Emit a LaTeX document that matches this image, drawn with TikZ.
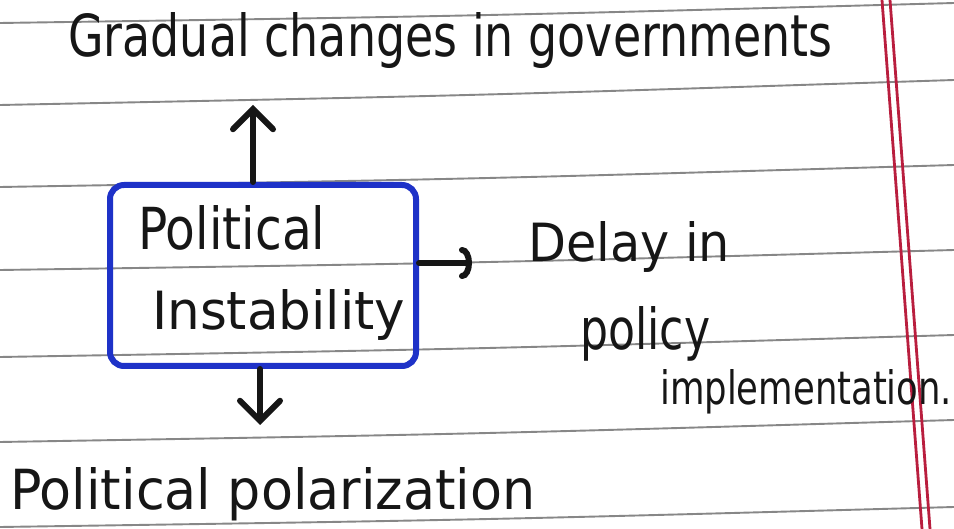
\documentclass[tikz,border=0pt]{standalone}
\usepackage{fontspec}
\setmainfont{DejaVu Sans}
\usetikzlibrary{arrows.meta}
\definecolor{rulegray}{RGB}{135,135,135}
\definecolor{marginred}{RGB}{185,30,62}
\definecolor{penblue}{RGB}{30,50,200}
\definecolor{penblack}{RGB}{22,22,22}
\newcommand{\fitwh}[3]{\resizebox{#1}{#2}{#3}}
\begin{document}
\begin{tikzpicture}[x=1pt,y=-1pt,
  rule/.style={draw=rulegray, line width=1.9pt},
  margin/.style={draw=marginred, line width=2.8pt},
  hand/.style={anchor=base west, inner sep=0pt, text=penblack},
  pbox/.style={draw=penblue, line width=6pt, rounded corners=14pt,
    minimum width=306pt, minimum height=181pt, inner sep=0pt},
  ink/.style={draw=penblack, line width=6pt, line cap=round},
  vhead/.style={-{Straight Barb[length=20pt,width=40pt,line cap=round]}},
  hhead/.style={-{Arc Barb[length=10pt,width=32pt,line cap=round]}}
]
\useasboundingbox (0,0) rectangle (954,529);
\fill[white] (0,0) rectangle (954,529);
% ruled lines
\foreach \a/\b in {23/3, 105/80, 187/165, 270/250, 357/335, 442/420, 527/507}
  \draw[rule] (0,\a) .. controls (477,{(\a+\b)/2+3}) .. (954,\b);
% margin lines
\draw[margin] (882,0) -- (922,529);
\draw[margin] (890,0) -- (930,529);

% box
\node[pbox] (box) at (263,275.5) {};
\node[hand] (t1) at (138,250) {\fitwh{187pt}{44pt}{Political}};
\node[hand] (t2) at (152,330) {\fitwh{253pt}{40pt}{Instability}};

% texts
\node[hand] (gov) at (68,57) {\fitwh{764pt}{44pt}{Gradual changes in governments}};
\node[hand] (delay1) at (528,262) {\fitwh{202pt}{40pt}{Delay in}};
\node[hand] (delay2) at (580,350) {\fitwh{130pt}{43pt}{policy}};
\node[hand] (delay3) at (660,405) {\fitwh{292pt}{35pt}{implementation.}};
\node[hand] (pol) at (10,510) {\fitwh{525pt}{42pt}{Political polarization}};

% arrows
\coordinate (uptip) at (253,105);
\coordinate (downtip) at (260,425);
\coordinate (righttip) at (472,263);
\draw[ink,vhead] (box.north -| uptip) -- (uptip);
\draw[ink,vhead] (box.south -| downtip) -- (downtip);
\draw[ink,hhead] (box.east |- righttip) -- (righttip);
\end{tikzpicture}
\end{document}
